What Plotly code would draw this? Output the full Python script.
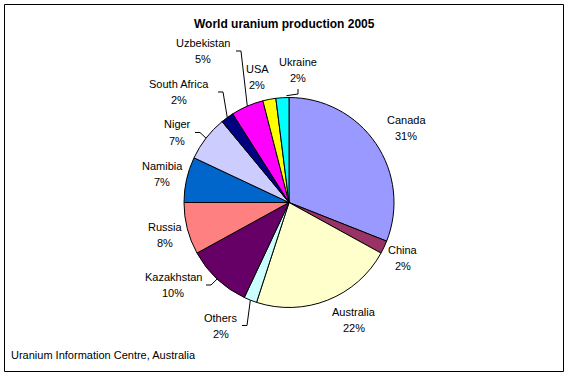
import math
import plotly.graph_objects as go

# ---- data ----
countries = ["Canada", "China", "Australia", "Others", "Kazakhstan", "Russia",
             "Namibia", "Niger", "South Africa", "Uzbekistan", "USA", "Ukraine"]
shares = [31, 2, 22, 2, 10, 8, 7, 7, 2, 5, 2, 2]
colors = ["#9999FF", "#993366", "#FFFFCC", "#CCFFFF", "#660066", "#FF8080",
          "#0066CC", "#CCCCFF", "#000080", "#FF00FF", "#FFFF00", "#00FFFF"]
title_text = "World uranium production 2005"
source_text = "Uranium Information Centre, Australia"

# ---- layout constants (pixels) ----
W, H = 569, 376
CX, CY, R = 289, 202.5, 105
# label centre offsets from pie centre (pixels)
label_offsets = {
    "Canada": (117, -74.5), "China": (114, 55), "Australia": (65, 117.5),
    "Others": (-68, 123), "Kazakhstan": (-116, 82.5), "Russia": (-124, 32),
    "Namibia": (-127, -29), "Niger": (-112, -70), "South Africa": (-110, -110.5),
    "Uzbekistan": (-86, -151.5), "USA": (-32, -125.5), "Ukraine": (9, -132.5),
}
leaders = {"Others": "right", "Kazakhstan": "right", "Niger": "right",
           "South Africa": "right", "Uzbekistan": "right", "Ukraine": "below"}
LINE_GAP = 16
FONT = "Arial, Liberation Sans, sans-serif"


def px(x):
    return x / W


def py(y):
    return 1 - y / H


fig = go.Figure(go.Pie(
    labels=countries, values=shares, sort=False, direction="clockwise",
    rotation=0, textinfo="none", hoverinfo="label+percent",
    marker=dict(colors=colors, line=dict(color="black", width=1)),
    domain=dict(x=[px(CX - R), px(CX + R)], y=[py(CY + R), py(CY - R)]),
    showlegend=False,
))

annotations = []
shapes = []
total = sum(shares)
cum = 0
for name, val in zip(countries, shares):
    mid = (cum + val / 2) / total * 2 * math.pi
    cum += val
    pct = f"{round(val / total * 100)}%"
    dx, dy = label_offsets[name]
    lx, ly = CX + dx, CY + dy
    for txt, yy in ((name, ly - LINE_GAP / 2), (pct, ly + LINE_GAP / 2)):
        annotations.append(dict(x=px(lx), y=py(yy), xref="paper", yref="paper",
                                text=txt, showarrow=False,
                                font=dict(family=FONT, size=11, color="black"),
                                xanchor="center", yanchor="middle"))
    if name in leaders:
        ex, ey = CX + R * math.sin(mid), CY - R * math.cos(mid)
        if leaders[name] == "right":
            ax = lx + len(name) * 3 + 3
            pts = [(ax, ly), (ax + 5, ly), (ex, ey)]
        else:
            pts = [(lx, ly + 19), (lx, ly + 24), (ex + 4, ey - 2)]
        path = "M " + " L ".join(f"{px(a):.5f},{py(b):.5f}" for a, b in pts)
        shapes.append(dict(type="path", path=path, xref="paper", yref="paper",
                           line=dict(color="black", width=1)))

annotations.append(dict(x=px(CX - 5), y=py(24), xref="paper", yref="paper",
                        text=f"<b>{title_text}</b>", showarrow=False,
                        font=dict(family=FONT, size=12, color="black"),
                        xanchor="center", yanchor="middle"))
annotations.append(dict(x=px(9), y=py(355), xref="paper", yref="paper",
                        text=source_text, showarrow=False,
                        font=dict(family=FONT, size=11, color="black"),
                        xanchor="left", yanchor="middle"))

shapes.append(dict(type="rect", xref="paper", yref="paper",
                   x0=px(4.5), x1=px(563.5), y0=py(371.5), y1=py(4.5),
                   line=dict(color="black", width=1)))

fig.update_layout(width=W, height=H, margin=dict(l=0, r=0, t=0, b=0),
                  paper_bgcolor="white", plot_bgcolor="white",
                  annotations=annotations, shapes=shapes)

fig.write_html("out.html", config={"displayModeBar": False},
               post_script="document.body.style.margin='0';"
                           "document.body.style.overflow='hidden';")
